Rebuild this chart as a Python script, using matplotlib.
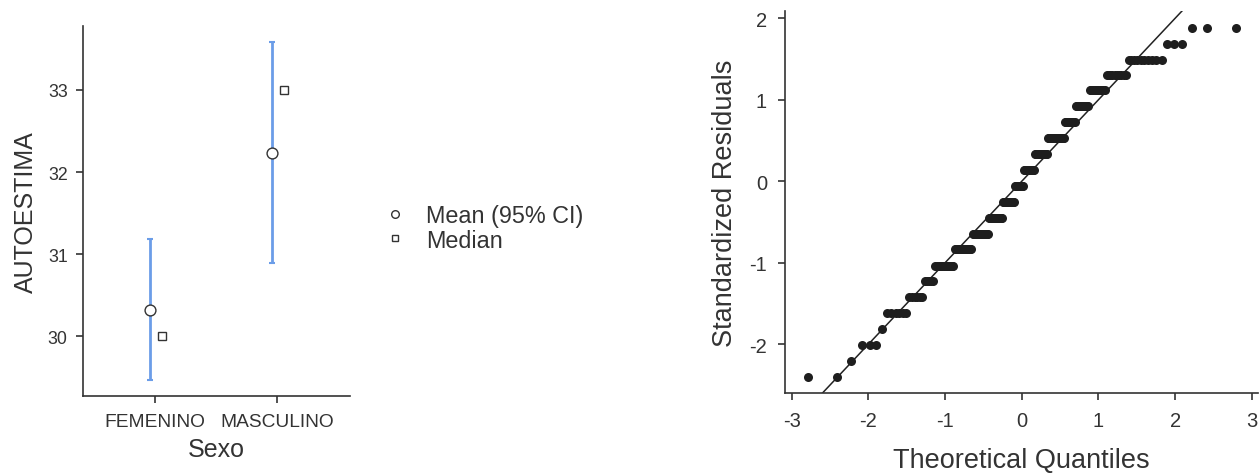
import matplotlib
matplotlib.use('Agg')
import matplotlib.pyplot as plt
from matplotlib.lines import Line2D
from statistics import NormalDist
import numpy as np

plt.rcParams['font.family'] = ['Liberation Sans', 'DejaVu Sans']
plt.rcParams['axes.unicode_minus'] = False

# ---- data: descriptives plot ----
categories = ['FEMENINO', 'MASCULINO']
means = [30.32, 32.23]
ci_low = [29.47, 30.89]
ci_high = [31.18, 33.58]
medians = [30.0, 33.0]
y_ticks_left = [30, 31, 32, 33]

# ---- data: Q-Q plot (standardized residual levels and number of points at each) ----
resid_levels = [-2.405, -2.21, -2.01, -1.81, -1.62, -1.42, -1.22, -1.035, -0.83, -0.65,
                -0.455, -0.25, -0.06, 0.135, 0.335, 0.53, 0.73, 0.92, 1.12, 1.31,
                1.49, 1.69, 1.88]
resid_counts = [2, 1, 3, 1, 6, 6, 5, 12, 13, 14, 13, 12, 9, 11, 12, 15, 9, 10, 10, 10,
                10, 3, 3]
x_ticks_right = [-3, -2, -1, 0, 1, 2, 3]
y_ticks_right = [-2, -1, 0, 1, 2]

TXT = '#333333'
W, H = 1260, 477
fig = plt.figure(figsize=(W / 100, H / 100), dpi=100)
fig.patch.set_facecolor('white')

# ---------------- left panel ----------------
ax1 = fig.add_axes([83 / W, (H - 397) / H, 267 / W, 370 / H])
xpos = np.arange(len(categories))
means_a = np.array(means)
yerr = np.vstack([means_a - np.array(ci_low), np.array(ci_high) - means_a])
ax1.errorbar(xpos - 0.04, means, yerr=yerr, fmt='none', ecolor='#6B9DE8',
             elinewidth=2, capsize=2, capthick=1.5, zorder=2)
ax1.plot(xpos - 0.04, means, 'o', mfc='white', mec=TXT, ms=7.8, mew=1.0,
         linestyle='none', zorder=3)
ax1.plot(xpos + 0.055, medians, 's', mfc='white', mec=TXT, ms=6.2, mew=1.0,
         linestyle='none', zorder=3)
ax1.set_xlim(-0.59, 1.598)
ax1.set_ylim(29.27, 33.78)
ax1.set_xticks(xpos)
ax1.set_xticklabels(categories, fontsize=13.8)
ax1.set_yticks(y_ticks_left)
ax1.set_xlabel('Sexo', fontsize=18, color=TXT, labelpad=5)
ax1.set_ylabel('AUTOESTIMA', fontsize=18, color=TXT, labelpad=7)
for s in ['top', 'right']:
    ax1.spines[s].set_visible(False)
for s in ['left', 'bottom']:
    ax1.spines[s].set_color(TXT)
    ax1.spines[s].set_linewidth(1.2)
ax1.tick_params(axis='y', colors=TXT, labelsize=12.8, length=5, width=1.2,
                labelcolor=TXT, pad=6)
ax1.tick_params(axis='x', colors=TXT, length=5, width=1.2, labelcolor=TXT, pad=7)

# legend
h_mean = Line2D([], [], marker='o', linestyle='none', mfc='white', mec=TXT, ms=5.5, mew=1.0)
h_med = Line2D([], [], marker='s', linestyle='none', mfc='white', mec=TXT, ms=5, mew=1.0)
fig.legend([h_mean, h_med], ['Mean (95% CI)', 'Median'], loc='center left',
           bbox_to_anchor=(386 / W, 1 - 229 / H), frameon=False, fontsize=16.8,
           handlelength=0.8, handletextpad=0.9, labelspacing=0.05, borderpad=0,
           borderaxespad=0, labelcolor=TXT)

# ---------------- right panel ----------------
ax2 = fig.add_axes([785 / W, (H - 394) / H, 473 / W, 382 / H])
sample = np.repeat(resid_levels, resid_counts)
n = len(sample)
nd = NormalDist()
theo = np.array([nd.inv_cdf((i - 0.5) / n) for i in range(1, n + 1)])
ax2.set_xlim(-3.086, 3.08)
ax2.set_ylim(-2.597, 2.089)
ax2.axline((0, 0), slope=1, color='#222222', lw=1.1, zorder=2)
ax2.plot(theo, sample, 'o', color='#1e1e1e', ms=6.5, mew=0, linestyle='none', zorder=3)
ax2.set_xticks(x_ticks_right)
ax2.set_yticks(y_ticks_right)
ax2.set_xlabel('Theoretical Quantiles', fontsize=19.5, color=TXT, labelpad=12)
ax2.set_ylabel('Standardized Residuals', fontsize=19.5, color=TXT, labelpad=8)
for s in ['top', 'right']:
    ax2.spines[s].set_visible(False)
for s in ['left', 'bottom']:
    ax2.spines[s].set_color(TXT)
    ax2.spines[s].set_linewidth(1.2)
ax2.tick_params(axis='both', colors=TXT, labelsize=14.5, length=5, width=1.2,
                labelcolor=TXT)
ax2.tick_params(axis='x', pad=8)
ax2.tick_params(axis='y', pad=8)

fig.savefig('out.png', dpi=100, facecolor='white')
